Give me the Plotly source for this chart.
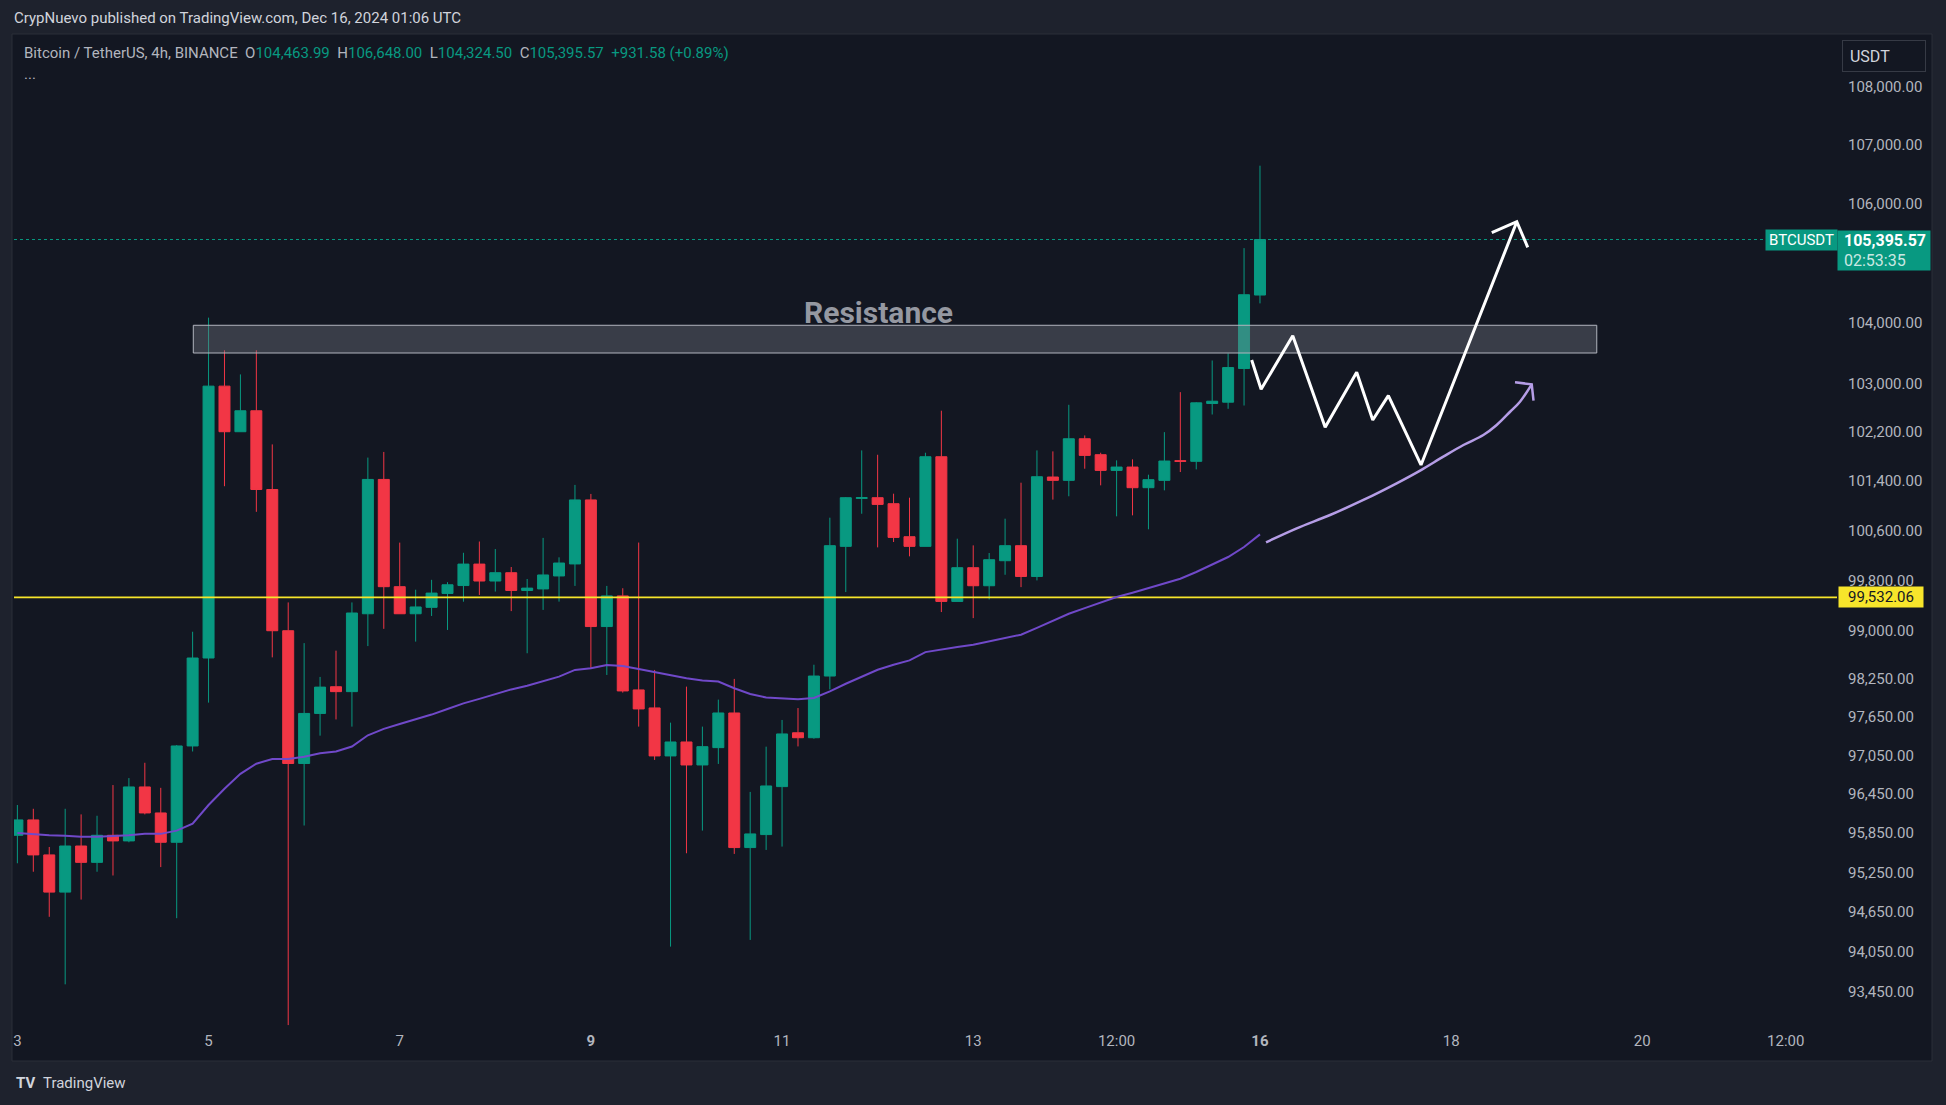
import numpy as np
import pandas as pd
import plotly.graph_objects as go

W, H = 1946, 1105
ML, MR, MT, MB = 14, 109, 34, 75

# 4h candles, Dec 3 00:00 -> Dec 16 00:00 (UTC)
times = pd.date_range("2024-12-03 00:00", periods=79, freq="4h")

opens = [95816, 96052, 95516, 94949, 95652, 95402, 95816, 95730, 96560, 96159,
         95709, 97195, 98572, 102953, 102205, 102548, 101265, 99003, 96923, 97702,
         98120, 98043, 99272, 101428, 99703, 99272, 99374, 99595, 99721, 100064,
         99793, 99926, 99643, 99667, 99874, 100066, 101096, 99069, 99556, 98070,
         97788, 97040, 97257, 96900, 97169, 97709, 95628, 95827, 96565, 97400,
         97323, 98288, 100348, 101121, 101132, 101035, 100503, 100348, 101797, 99468,
         100006, 99718, 100118, 100359, 99866, 101467, 101413, 102090, 101830, 101575,
         101629, 101294, 101413, 101733, 101722, 102667, 102689, 103243, 104463.99]
highs = [96281, 96223, 95637, 96223, 96137, 96116, 96589, 96697, 96934, 96546,
         97210, 98987, 104087, 103545, 103146, 103545, 101998, 99452, 98807, 98274,
         98688, 99452, 101783, 101875, 100408, 99655, 99812, 99775, 100245, 100426,
         100305, 100017, 99826, 100484, 100172, 101339, 101193, 99715, 99678, 100409,
         98384, 97558, 98122, 97496, 97918, 98243, 96483, 97184, 97600, 97786,
         98466, 100809, 101143, 101900, 101829, 101197, 101132, 101862, 102549, 100471,
         100364, 100241, 100793, 101375, 101900, 101884, 102646, 102144, 101862, 101738,
         101754, 101505, 102198, 102854, 102689, 103376, 103493, 105251, 106648.00]
lows = [95388, 95259, 94575, 93559, 94836, 95259, 95202, 95709, 96137, 95330,
        94554, 97109, 97871, 101318, 102205, 100904, 98582, 92951, 95966, 97355,
        97608, 97496, 98760, 99033, 99272, 98831, 99237, 99015, 99464, 99571,
        99625, 99314, 98647, 99333, 99465, 99715, 98410, 98305, 98028, 97496,
        96978, 94125, 95541, 95888, 96916, 95531, 94226, 95592, 95643, 97188,
        97307, 98078, 99617, 100873, 100332, 100418, 100188, 100348, 99299, 99468,
        99203, 99500, 99893, 99696, 99803, 101101, 101155, 101602, 101332, 100831,
        100847, 100622, 101251, 101548, 101591, 102487, 102580, 102634, 104324.50]
closes = [96052, 95516, 94949, 95652, 95402, 95816, 95730, 96560, 96159, 95709,
          97195, 98572, 102953, 102205, 102548, 101265, 99003, 96923, 97702, 98114,
          98043, 99284, 101428, 99703, 99272, 99380, 99601, 99733, 100064, 99793,
          99926, 99643, 99680, 99890, 100081, 101096, 99069, 99556, 98054, 97772,
          97040, 97257, 96900, 97184, 97709, 95628, 95837, 96575, 97382, 97323,
          98288, 100359, 101132, 101132, 101024, 100492, 100348, 101797, 99468, 100006,
          99718, 100134, 100359, 99866, 101472, 101413, 102090, 101819, 101575, 101629,
          101294, 101424, 101727, 101722, 102678, 102705, 103259, 104469, 105395.57]

# moving average line
ma_line = [95852, 95830, 95816, 95809, 95795, 95795, 95802, 95816, 95838, 95838,
           95887, 95994, 96281, 96532, 96762, 96920, 96993, 96993, 97028, 97081,
           97110, 97186, 97361, 97461, 97537, 97608, 97684, 97772, 97860, 97930,
           98008, 98078, 98135, 98201, 98279, 98384, 98410, 98463, 98447, 98400,
           98347, 98305, 98253, 98217, 98201, 98096, 98007, 97950, 97935, 97922,
           97943, 98047, 98167, 98282, 98387, 98466, 98534, 98665, 98708, 98745,
           98781, 98834, 98887, 98940, 99048, 99166, 99272, 99362, 99447, 99538,
           99607, 99681, 99750, 99830, 99937, 100054, 100177, 100337, 100541]

# drawings
zig_t = ["2024-12-15 21:55", "2024-12-16 00:17", "2024-12-16 08:14", "2024-12-16 16:22",
         "2024-12-17 00:17", "2024-12-17 04:19", "2024-12-17 08:14", "2024-12-17 16:26",
         "2024-12-18 16:29"]
zig_p = [103384, 102901, 103786, 102277, 103181, 102397, 102796, 101663, 105696]
zig_head_t = ["2024-12-18 10:12", "2024-12-18 16:29", "2024-12-18 19:14"]
zig_head_p = [105511, 105696, 105264]

curve_t = ["2024-12-16 01:31", "2024-12-16 09:14", "2024-12-16 17:36", "2024-12-17 01:58",
           "2024-12-17 10:19", "2024-12-17 16:26", "2024-12-17 22:02", "2024-12-18 03:05",
           "2024-12-18 08:05", "2024-12-18 11:26", "2024-12-18 14:48", "2024-12-18 17:17",
           "2024-12-18 20:14"]
curve_p = [100413, 100638, 100853, 101095, 101365, 101580, 101798, 101988,
           102151, 102315, 102532, 102697, 102983]
curve_head_t = ["2024-12-18 16:02", "2024-12-18 20:14", "2024-12-18 20:41"]
curve_head_p = [103016, 102983, 102713]

res_t = ["2024-12-04 20:10", "2024-12-19 12:34"]
res_p = [103500, 103960]
res_label_t = "2024-12-12 00:07"
res_label_p = 104165

support_p = 99532.06
last_p = 105395.57

x_range = ["2024-12-02 23:09", "2024-12-22 00:53"]
y_ticks = [108000, 107000, 106000, 104000, 103000, 102200, 101400, 100600,
           99800, 99000, 98250, 97650, 97050, 96450, 95850, 95250, 94650, 94050, 93450]
x_tickvals = ["2024-12-03", "2024-12-05", "2024-12-07", "2024-12-09", "2024-12-11",
              "2024-12-13", "2024-12-14 12:00", "2024-12-16", "2024-12-18",
              "2024-12-20", "2024-12-21 12:00"]
x_ticktext = ["3", "5", "7", "<b>9</b>", "11", "13", "12:00", "<b>16</b>", "18", "20", "12:00"]

GREEN = "#089981"
RED = "#f23645"
TXT = "#b2b5be"


def px(x):
    return (x - ML) / (W - ML - MR)


def py(y):
    return (H - MB - y) / (H - MT - MB)


fig = go.Figure()

# resistance zone
fig.add_trace(go.Scatter(
    x=[res_t[0], res_t[1], res_t[1], res_t[0], res_t[0]],
    y=[res_p[0], res_p[0], res_p[1], res_p[1], res_p[0]],
    mode="lines", fill="toself", fillcolor="rgba(120,123,134,0.38)",
    line=dict(color="#b2b5be", width=1), hoverinfo="skip", showlegend=False))

# horizontal lines
fig.add_trace(go.Scatter(x=x_range, y=[last_p, last_p], mode="lines",
                         line=dict(color=GREEN, width=1, dash="dot"),
                         hoverinfo="skip", showlegend=False))
fig.add_trace(go.Scatter(x=x_range, y=[support_p, support_p], mode="lines",
                         line=dict(color="#f7e52b", width=1.6),
                         hoverinfo="skip", showlegend=False))

fig.add_trace(go.Candlestick(
    x=times, open=opens, high=highs, low=lows, close=closes,
    increasing=dict(line=dict(color=GREEN, width=1), fillcolor=GREEN),
    decreasing=dict(line=dict(color=RED, width=1), fillcolor=RED),
    whiskerwidth=0, hoverinfo="skip", showlegend=False))

fig.add_trace(go.Scatter(x=times, y=ma_line, mode="lines",
                         line=dict(color="#7049c9", width=2),
                         hoverinfo="skip", showlegend=False))

# projected path
fig.add_trace(go.Scatter(x=zig_t, y=zig_p, mode="lines",
                         line=dict(color="white", width=3),
                         hoverinfo="skip", showlegend=False))
fig.add_trace(go.Scatter(x=zig_head_t, y=zig_head_p, mode="lines",
                         line=dict(color="white", width=3),
                         hoverinfo="skip", showlegend=False))
fig.add_trace(go.Scatter(x=curve_t, y=curve_p, mode="lines", line_shape="spline",
                         line=dict(color="#b59de6", width=2.5),
                         hoverinfo="skip", showlegend=False))
fig.add_trace(go.Scatter(x=curve_head_t, y=curve_head_p, mode="lines",
                         line=dict(color="#b59de6", width=2.5),
                         hoverinfo="skip", showlegend=False))

legend_txt = ("Bitcoin / TetherUS, 4h, BINANCE\u00a0\u00a0"
              f"O<span style='color:{GREEN}'>104,463.99</span>\u00a0\u00a0"
              f"H<span style='color:{GREEN}'>106,648.00</span>\u00a0\u00a0"
              f"L<span style='color:{GREEN}'>104,324.50</span>\u00a0\u00a0"
              f"C<span style='color:{GREEN}'>105,395.57</span>\u00a0\u00a0"
              f"<span style='color:{GREEN}'>+931.58 (+0.89%)</span>")

annotations = [
    dict(xref="paper", yref="paper", x=px(12), y=py(18), xanchor="left", yanchor="middle",
         text="CrypNuevo published on TradingView.com, Dec 16, 2024 01:06 UTC",
         showarrow=False, font=dict(size=15, color="#d1d4dc")),
    dict(xref="paper", yref="paper", x=px(22), y=py(53), xanchor="left", yanchor="middle",
         text=legend_txt, showarrow=False, font=dict(size=15, color=TXT)),
    dict(xref="paper", yref="paper", x=px(22), y=py(74), xanchor="left", yanchor="middle",
         text="...", showarrow=False, font=dict(size=15, color=TXT)),
    dict(xref="paper", yref="paper", x=px(1842), y=py(40), xanchor="left", yanchor="top",
         text="\u00a0USDT", showarrow=False, align="left", width=76, height=24, borderpad=3,
         bgcolor="#131722", bordercolor="#363a45", borderwidth=1,
         font=dict(size=16, color="#d1d4dc")),
    dict(xref="x", yref="y", x=res_label_t, y=np.log10(res_label_p),
         xanchor="center", yanchor="middle", text="<b>Resistance</b>", showarrow=False,
         font=dict(size=30, color="#9598a1")),
    dict(xref="paper", yref="y", x=px(1838), y=np.log10(support_p), xanchor="left",
         yanchor="middle", text="99,532.06", showarrow=False, width=80, height=16,
         borderpad=2, bgcolor="#f7e52b", font=dict(size=15, color="#131722")),
    dict(xref="paper", yref="paper", x=px(1765), y=py(240), xanchor="left",
         yanchor="middle", text="BTCUSDT", showarrow=False, width=67, height=16,
         borderpad=2, bgcolor=GREEN, font=dict(size=15, color="white")),
    dict(xref="paper", yref="paper", x=px(1837), y=py(230), xanchor="left", yanchor="top",
         text="\u00a0<b>105,395.57</b><br>\u00a0<span style='color:rgba(255,255,255,0.8)'>02:53:35</span>",
         showarrow=False, align="left", width=88, height=35, borderpad=2, bgcolor=GREEN,
         font=dict(size=16, color="white")),
    dict(xref="paper", yref="paper", x=px(14), y=py(1083), xanchor="left", yanchor="middle",
         text="<b>TV</b>", showarrow=False, font=dict(size=15, color="#d1d4dc")),
    dict(xref="paper", yref="paper", x=px(41), y=py(1083), xanchor="left", yanchor="middle",
         text="TradingView", showarrow=False, font=dict(size=15, color="#d1d4dc")),
]

shapes = [
    dict(type="rect", xref="paper", yref="paper", x0=px(12), x1=px(1932),
         y0=py(1061), y1=py(34), fillcolor="#131722",
         line=dict(color="#2a2e39", width=1), layer="below"),
]

fig.update_layout(
    width=W, height=H,
    margin=dict(l=ML, r=MR, t=MT, b=MB),
    paper_bgcolor="#1e222d", plot_bgcolor="rgba(0,0,0,0)",
    font=dict(family="Roboto", color=TXT),
    boxgap=0.31, boxgroupgap=0,
    showlegend=False,
    annotations=annotations, shapes=shapes,
    xaxis=dict(type="date", range=x_range, tickvals=x_tickvals, ticktext=x_ticktext,
               tickfont=dict(size=15, color=TXT), showgrid=False, zeroline=False,
               showline=False, ticks="", rangeslider=dict(visible=False)),
    yaxis=dict(type="log", side="right",
               range=[np.log10(92878), np.log10(108918)],
               tickvals=y_ticks, ticktext=[f"{v:,.2f}" for v in y_ticks],
               tickfont=dict(size=15, color=TXT), showgrid=False, zeroline=False,
               showline=False, ticks="", ticklabelstandoff=10),
)

# page body has a default margin; drop it so the figure sits at the window corner
fig.write_html("out.html", config={"displayModeBar": False},
               post_script="document.body.style.margin='0';"
                           "document.body.style.background='#1e222d';")
